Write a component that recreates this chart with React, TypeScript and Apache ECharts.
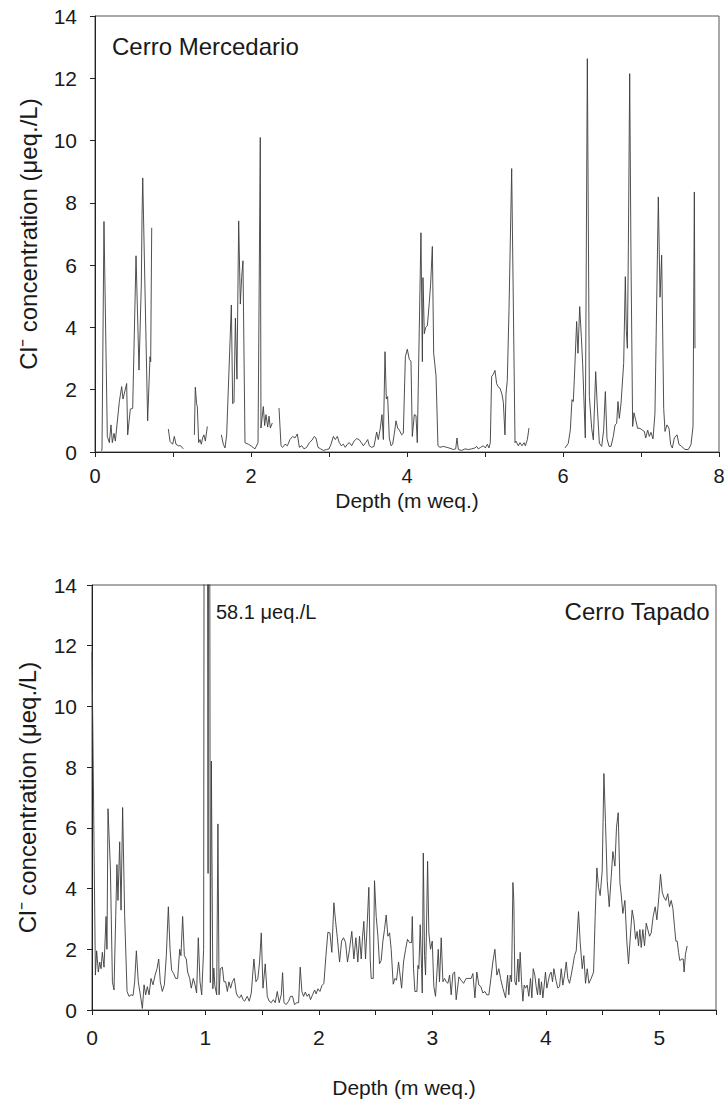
import React, { useEffect, useRef } from "react";
import * as echarts from "echarts";

// Cerro Mercedario (top panel) — null marks a gap in the record
const mercedarioDepth = [
  0.086, 0.09, 0.115, 0.158, 0.184, 0.205, 0.222, 0.244, 0.261, 0.312, 0.342, 0.359, 0.406, 0.419, 0.453, 0.483,
  0.526, 0.564, 0.594, 0.603, 0.612, 0.675, 0.705, 0.714, 0.727, 0.8,
  0.94, 0.962, 0.996, 1.017, 1.038, 1.068, 1.098, 1.132, 1.2,
  1.274, 1.286, 1.303, 1.312, 1.329, 1.346, 1.363, 1.38, 1.397, 1.415, 1.44, 1.5,
  1.62, 1.645, 1.667, 1.688, 1.748, 1.765, 1.782, 1.8, 1.82, 1.842, 1.863, 1.88, 1.897, 1.923, 1.966, 2.009, 2.051,
  2.09, 2.119, 2.128, 2.158, 2.175, 2.192, 2.214, 2.231, 2.248, 2.273, 2.32,
  2.359, 2.385, 2.406, 2.436, 2.466, 2.5, 2.534, 2.564, 2.594, 2.62, 2.65, 2.68, 2.714, 2.748, 2.782, 2.812, 2.833,
  2.859, 2.893, 2.927, 2.97, 3.0, 3.026, 3.056, 3.081, 3.107, 3.132, 3.158, 3.184, 3.209, 3.235, 3.261, 3.291,
  3.321, 3.355, 3.385, 3.415, 3.44, 3.47, 3.496, 3.517, 3.547, 3.577, 3.611, 3.632, 3.658, 3.679, 3.697, 3.718,
  3.735, 3.752, 3.773, 3.795, 3.816, 3.838, 3.859, 3.88, 3.902, 3.932, 3.953, 3.979, 4.004, 4.03, 4.051, 4.068,
  4.094, 4.115, 4.132, 4.179, 4.197, 4.205, 4.222, 4.239, 4.261, 4.286, 4.303, 4.325, 4.342, 4.372, 4.397, 4.423,
  4.466, 4.509, 4.551, 4.594, 4.624, 4.641, 4.658, 4.701, 4.744, 4.786, 4.829, 4.872, 4.893, 4.915, 4.944, 4.979,
  5.004, 5.03, 5.051, 5.068, 5.085, 5.107, 5.128, 5.149, 5.167, 5.192, 5.218, 5.235, 5.256, 5.269, 5.286, 5.308,
  5.342, 5.385, 5.397, 5.427, 5.449, 5.474, 5.5, 5.517, 5.543, 5.564, 5.8,
  6.026, 6.068, 6.094, 6.115, 6.132, 6.145, 6.175, 6.192, 6.214, 6.235, 6.252, 6.286, 6.312, 6.338, 6.368, 6.389,
  6.419, 6.44, 6.466, 6.496, 6.521, 6.543, 6.564, 6.59, 6.615, 6.645, 6.667, 6.688, 6.705, 6.722, 6.744, 6.778,
  6.799, 6.812, 6.825, 6.838, 6.855, 6.872, 6.893, 6.91, 6.932, 6.957, 6.987, 7.017, 7.043, 7.06, 7.086, 7.107,
  7.128, 7.154, 7.179, 7.222, 7.244, 7.265, 7.291, 7.308, 7.333, 7.359, 7.38, 7.402, 7.427, 7.462, 7.487, 7.521,
  7.564, 7.607, 7.641, 7.667, 7.684, 7.692,
];
const mercedarioCl = [
  0.03, 0.13, 7.4, 0.5, 0.3, 0.87, 0.3, 0.6, 0.35, 1.62, 2.1, 1.7, 2.2, 0.55, 1.38, 1.4,
  6.3, 2.63, 5.4, 7.6, 8.8, 1.0, 3.06, 2.9, 7.2, null,
  0.74, 0.34, 0.25, 0.5, 0.25, 0.2, 0.2, 0.1, null,
  0.55, 2.08, 1.55, 1.45, 0.3, 0.4, 0.25, 0.45, 0.55, 0.35, 0.82, null,
  0.55, 0.25, 0.13, 0.55, 4.72, 1.55, 1.6, 4.3, 2.34, 7.42, 4.75, 5.6, 6.14, 0.3, 0.25, 0.18, 0.1,
  0.3, 10.1, 0.77, 1.46, 0.85, 1.2, 0.8, 1.15, 0.77, 0.93, null,
  1.41, 0.2, 0.15, 0.25, 0.2, 0.4, 0.5, 0.45, 0.58, 0.15, 0.2, 0.1, 0.15, 0.3, 0.38, 0.5, 0.45,
  0.15, 0.1, 0.05, 0.08, 0.1, 0.25, 0.5, 0.4, 0.5, 0.3, 0.2, 0.25, 0.15, 0.25, 0.3, 0.2,
  0.35, 0.43, 0.4, 0.3, 0.2, 0.3, 0.4, 0.2, 0.15, 0.18, 0.64, 0.4, 0.77, 1.2, 0.4, 3.22,
  1.7, 1.78, 0.45, 0.2, 0.25, 0.6, 1.0, 0.77, 0.7, 0.55, 0.6, 3.06, 3.3, 2.97, 2.92, 0.5,
  1.2, 1.17, 0.3, 7.04, 2.9, 5.6, 3.8, 4.0, 4.05, 4.8, 5.4, 6.6, 3.17, 2.45, 0.2, 0.15,
  0.18, 0.15, 0.12, 0.08, 0.1, 0.45, 0.08, 0.05, 0.1, 0.08, 0.1, 0.13, 0.18, 0.1, 0.15, 0.2,
  0.13, 0.25, 0.13, 0.3, 2.42, 2.5, 2.62, 2.2, 2.1, 2.05, 1.85, 1.6, 0.55, 1.85, 2.3, 4.6,
  9.1, 0.3, 0.35, 0.2, 0.3, 0.2, 0.3, 0.2, 0.4, 0.77, null,
  0.13, 0.28, 0.71, 1.68, 1.62, 2.32, 4.19, 3.17, 4.67, 3.7, 2.85, 0.45, 12.63, 1.78, 0.75, 0.39,
  2.58, 1.45, 0.28, 0.18, 0.7, 1.94, 0.43, 0.18, 0.18, 0.5, 0.87, 0.92, 1.62, 1.08, 1.57, 2.85,
  5.63, 3.9, 3.33, 6.6, 12.15, 6.1, 0.82, 1.26, 1.03, 0.76, 0.76, 0.7, 0.66, 0.45, 0.7, 0.5,
  0.63, 0.42, 1.24, 8.19, 4.97, 6.32, 1.4, 0.66, 0.87, 0.76, 0.24, 0.13, 0.45, 0.55, 0.24, 0.18,
  0.08, 0.08, 0.24, 0.82, 8.35, 3.33,
];

// Cerro Tapado (bottom panel)
const tapadoDepth = [
  0.0, 0.03, 0.041, 0.056, 0.068, 0.08, 0.091, 0.106, 0.124, 0.132, 0.141, 0.162, 0.18, 0.194, 0.209, 0.22,
  0.229, 0.244, 0.256, 0.27, 0.288, 0.309, 0.326, 0.344, 0.362, 0.376, 0.391, 0.408, 0.426, 0.444, 0.459, 0.473,
  0.488, 0.503, 0.52, 0.538, 0.556, 0.573, 0.588, 0.602, 0.62, 0.638, 0.655, 0.673, 0.688, 0.702, 0.72, 0.737,
  0.755, 0.773, 0.784, 0.799, 0.814, 0.831, 0.843, 0.861, 0.875, 0.893, 0.908, 0.922, 0.937, 0.952, 0.967, 0.984,
  1.0, 1.023, 1.033, 1.043, 1.052, 1.065, 1.074, 1.083, 1.099, 1.11, 1.12, 1.131, 1.149, 1.163, 1.178, 1.193,
  1.207, 1.222, 1.237, 1.254, 1.272, 1.284, 1.301, 1.316, 1.331, 1.345, 1.368, 1.386, 1.404, 1.427, 1.445, 1.462,
  1.477, 1.492, 1.507, 1.527, 1.545, 1.562, 1.58, 1.598, 1.615, 1.633, 1.65, 1.668, 1.68, 1.692, 1.712, 1.733,
  1.75, 1.768, 1.785, 1.806, 1.821, 1.835, 1.85, 1.865, 1.88, 1.897, 1.912, 1.926, 1.944, 1.962, 1.976, 1.991,
  2.009, 2.026, 2.044, 2.062, 2.079, 2.097, 2.114, 2.132, 2.147, 2.161, 2.182, 2.2, 2.217, 2.235, 2.252, 2.27,
  2.29, 2.308, 2.326, 2.343, 2.358, 2.373, 2.385, 2.396, 2.411, 2.426, 2.44, 2.452, 2.461, 2.479, 2.49, 2.505,
  2.52, 2.534, 2.549, 2.564, 2.578, 2.593, 2.608, 2.623, 2.637, 2.655, 2.67, 2.684, 2.702, 2.729, 2.746, 2.764,
  2.781, 2.799, 2.817, 2.823, 2.834, 2.846, 2.864, 2.873, 2.881, 2.893, 2.905, 2.911, 2.92, 2.931, 2.94, 2.946,
  2.958, 2.969, 2.984, 2.999, 3.013, 3.028, 3.052, 3.063, 3.078, 3.093, 3.107, 3.122, 3.137, 3.152, 3.166, 3.181,
  3.196, 3.21, 3.234, 3.254, 3.275, 3.298, 3.322, 3.342, 3.357, 3.375, 3.392, 3.41, 3.428, 3.445, 3.463, 3.48,
  3.498, 3.516, 3.533, 3.551, 3.569, 3.586, 3.601, 3.621, 3.645, 3.663, 3.674, 3.686, 3.698, 3.71, 3.718, 3.727,
  3.739, 3.754, 3.762, 3.774, 3.786, 3.798, 3.809, 3.821, 3.836, 3.85, 3.865, 3.877, 3.889, 3.903, 3.915, 3.927,
  3.939, 3.95, 3.962, 3.974, 3.986, 3.997, 4.009, 4.021, 4.033, 4.047, 4.059, 4.071, 4.092, 4.106, 4.121, 4.136,
  4.15, 4.165, 4.18, 4.194, 4.209, 4.224, 4.239, 4.253, 4.268, 4.288, 4.303, 4.321, 4.335, 4.35, 4.365, 4.38,
  4.4, 4.421, 4.435, 4.45, 4.465, 4.479, 4.497, 4.512, 4.526, 4.541, 4.559, 4.576, 4.591, 4.609, 4.623, 4.638,
  4.653, 4.664, 4.679, 4.697, 4.714, 4.729, 4.747, 4.761, 4.776, 4.791, 4.805, 4.817, 4.829, 4.841, 4.855, 4.87,
  4.885, 4.899, 4.914, 4.929, 4.946, 4.964, 4.979, 4.996, 5.011, 5.026, 5.04, 5.058, 5.075, 5.09, 5.105, 5.12,
  5.134, 5.146, 5.158, 5.17, 5.181, 5.199, 5.211, 5.219, 5.231, 5.246,
];
const tapadoCl = [
  11.8, 1.15, 1.95, 1.25, 1.58, 1.36, 1.9, 1.41, 3.08, 2.0, 6.63, 4.68, 0.93, 0.66, 3.08, 4.79,
  3.61, 5.54, 3.29, 6.67, 3.08, 0.61, 0.45, 0.5, 0.48, 0.93, 1.95, 0.93, 0.5, 0.05, 0.83, 0.5,
  0.77, 0.5, 1.04, 0.83, 1.15, 1.36, 1.68, 0.93, 0.61, 0.83, 1.79, 3.4, 2.0, 1.31, 1.2, 1.04,
  1.04, 2.0, 1.79, 3.08, 1.79, 1.68, 1.25, 1.04, 0.72, 1.04, 0.83, 0.56, 2.38, 0.93, 0.5, 2.0,
  58.1, 4.5, 30, 0.9, 8.2, 0.7, 1.38, 0.8, 0.5, 6.13, 0.5, 1.36, 1.41, 0.93, 0.93, 0.61,
  0.93, 0.72, 0.93, 1.04, 0.56, 0.45, 0.4, 0.5, 0.34, 0.29, 0.45, 0.29, 0.56, 1.68, 0.93, 1.04,
  1.58, 2.54, 0.72, 1.52, 0.45, 0.29, 0.24, 0.34, 0.24, 0.61, 0.24, 0.5, 1.23, 0.24, 0.18, 0.29,
  0.45, 0.45, 0.18, 0.24, 0.24, 1.41, 0.61, 0.45, 0.59, 0.45, 0.53, 0.34, 0.5, 0.66, 0.53, 0.7,
  0.61, 0.8, 0.88, 1.79, 2.56, 2.54, 1.9, 3.53, 2.92, 2.43, 1.58, 2.27, 2.38, 2.22, 1.58, 2.0,
  2.59, 1.68, 2.38, 1.58, 2.43, 1.68, 2.43, 2.92, 1.68, 2.86, 4.04, 1.68, 1.04, 1.04, 4.26, 3.08,
  2.43, 1.52, 1.63, 2.27, 2.65, 3.13, 2.43, 2.54, 2.0, 0.85, 1.04, 0.98, 1.58, 0.72, 1.58, 2.0,
  2.33, 2.22, 2.22, 3.08, 1.36, 0.61, 0.61, 1.47, 1.36, 2.81, 1.36, 0.56, 5.17, 1.79, 1.15, 2.22,
  4.9, 2.54, 2.0, 2.27, 0.77, 0.45, 2.0, 0.93, 2.38, 0.93, 1.04, 0.93, 0.88, 1.15, 0.5, 1.2,
  1.25, 0.34, 1.09, 0.98, 0.88, 1.04, 1.04, 1.04, 1.2, 0.4, 1.25, 0.82, 0.77, 0.56, 0.61, 0.5,
  0.5, 1.04, 1.58, 2.0, 1.15, 1.36, 1.04, 0.72, 0.4, 1.15, 0.5, 1.15, 0.93, 4.2, 3.6, 0.93,
  0.82, 1.68, 0.93, 1.9, 0.93, 0.29, 0.82, 0.72, 0.82, 0.45, 1.04, 0.4, 1.36, 1.15, 0.77, 0.5,
  1.04, 0.5, 0.93, 0.4, 0.82, 1.25, 0.72, 0.93, 1.15, 1.25, 0.93, 1.36, 0.93, 0.72, 0.77, 1.36,
  0.82, 1.15, 1.58, 1.04, 0.88, 1.15, 1.47, 1.79, 1.95, 3.24, 2.22, 1.36, 1.79, 0.88, 1.36, 0.88,
  1.04, 1.25, 3.08, 4.68, 4.04, 3.77, 4.58, 7.79, 6.18, 4.26, 3.4, 4.37, 5.22, 4.74, 6.02, 6.5,
  4.2, 3.83, 3.18, 3.61, 2.27, 1.52, 2.54, 3.29, 2.97, 2.33, 2.59, 2.11, 2.65, 2.06, 2.65, 2.11,
  2.86, 2.65, 2.43, 2.54, 3.08, 3.4, 2.97, 3.72, 4.47, 3.88, 3.72, 3.61, 3.83, 3.4, 3.61, 3.35,
  2.76, 2.27, 2.27, 1.9, 1.63, 1.68, 1.68, 1.25, 1.84, 2.11,
];

const yTicks = [0, 2, 4, 6, 8, 10, 12, 14];

const FONT = "'Liberation Sans', Arial, sans-serif";
const INK = "#1a1a1a";
const LINE = "#3c3c3c";

function pairs(xs: number[], ys: (number | null)[]) {
  return xs.map((x, i) => [x, ys[i] == null ? null : ys[i]]);
}

export default function App() {
  const ref = useRef<HTMLDivElement>(null);

  useEffect(() => {
    if (!ref.current) return;
    const chart = echarts.init(ref.current, undefined, { renderer: "svg" });

    const yAxisCommon = (gridIndex: number, gap: number, margin: number) => ({
      type: "value",
      gridIndex,
      min: yTicks[0],
      max: yTicks[yTicks.length - 1],
      interval: 2,
      name: "Cl\u207B concentration (\u03BCeq./L)",
      nameLocation: "middle",
      nameGap: gap,
      nameMoveOverlap: false,
      nameTextStyle: { fontFamily: FONT, fontSize: 24, color: INK },
      axisLine: { show: true, lineStyle: { color: "#222", width: 1 } },
      axisTick: { show: true, length: 5, lineStyle: { color: "#222" } },
      axisLabel: { fontFamily: FONT, fontSize: 21, color: INK, margin },
      splitLine: { show: false },
    });

    const xAxisCommon = (
      gridIndex: number,
      max: number,
      interval: number,
      gap: number,
      margin: number,
      labelSize: number
    ) => ({
      type: "value",
      gridIndex,
      min: 0,
      max,
      interval,
      name: "Depth (m weq.)",
      nameLocation: "middle",
      nameGap: gap,
      nameMoveOverlap: false,
      nameTextStyle: { fontFamily: FONT, fontSize: 21, color: INK, lineHeight: 21 },
      axisLine: { show: true, onZero: false, lineStyle: { color: "#222", width: 1 } },
      axisTick: { show: true, length: 5, lineStyle: { color: "#222" } },
      minorTick: { show: true, splitNumber: 2, length: 5, lineStyle: { color: "#222" } },
      axisLabel: {
        fontFamily: FONT,
        fontSize: labelSize,
        lineHeight: labelSize,
        color: INK,
        margin,
        showMaxLabel: max % interval === 0,
      },
      splitLine: { show: false },
      minorSplitLine: { show: false },
    });

    chart.setOption({
      animation: false,
      backgroundColor: "#ffffff",
      grid: [
        { left: 95, top: 16, width: 624, height: 436, show: true, borderColor: "#555", borderWidth: 1, backgroundColor: "transparent" },
        { left: 92, top: 585, width: 624, height: 425, show: true, borderColor: "#555", borderWidth: 1, backgroundColor: "transparent" },
      ],
      xAxis: [xAxisCommon(0, 8, 2, 38, 14, 20), xAxisCommon(1, 5.5, 1, 67, 17, 21)],
      yAxis: [yAxisCommon(0, 55, 18), yAxisCommon(1, 53, 15)],
      series: [
        {
          type: "line",
          xAxisIndex: 0,
          yAxisIndex: 0,
          data: pairs(mercedarioDepth, mercedarioCl),
          showSymbol: false,
          connectNulls: false,
          clip: true,
          lineStyle: { color: LINE, width: 0.9 },
        },
        {
          type: "line",
          xAxisIndex: 1,
          yAxisIndex: 1,
          data: pairs(tapadoDepth, tapadoCl),
          showSymbol: false,
          clip: true,
          lineStyle: { color: LINE, width: 0.9 },
        },
      ],
      graphic: [
        { type: "text", left: 112, top: 34, style: { text: "Cerro Mercedario", fontFamily: FONT, fontSize: 24, fill: INK } },
        { type: "text", right: 18, top: 599, style: { text: "Cerro Tapado", fontFamily: FONT, fontSize: 24, fill: INK } },
        { type: "text", left: 216, top: 602, style: { text: "58.1 \u03BCeq./L", fontFamily: FONT, fontSize: 20, fill: INK } },
      ],
    });

    return () => chart.dispose();
  }, []);

  return (
    <div
      ref={ref}
      style={{ position: "absolute", left: 0, top: 0, width: 728, height: 1106, background: "#fff" }}
    />
  );
}
